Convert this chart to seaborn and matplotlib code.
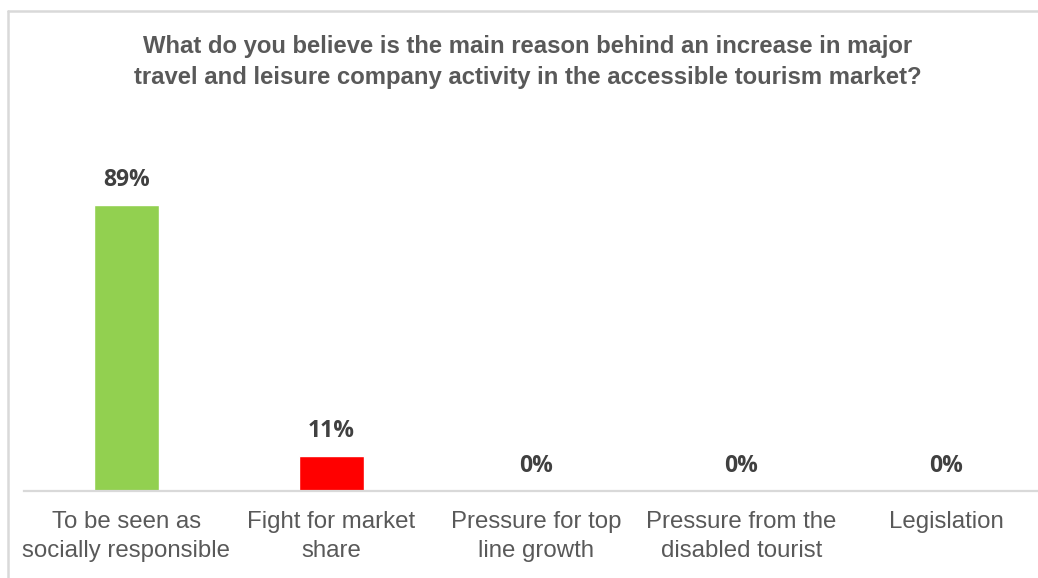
import matplotlib
matplotlib.use("Agg")
import matplotlib.pyplot as plt
import seaborn as sns
from matplotlib.lines import Line2D

categories = [
    "To be seen as\nsocially responsible",
    "Fight for market\nshare",
    "Pressure for top\nline growth",
    "Pressure from the\ndisabled tourist",
    "Legislation",
]
shares = [0.89, 0.11, 0.0, 0.0, 0.0]
value_labels = ["89%", "11%", "0%", "0%", "0%"]
bar_colors = ["#92D050", "#FF0000", "#A5A5A5", "#FFC000", "#5B9BD5"]
title = ("What do you believe is the main reason behind an increase in major\n"
         "travel and leisure company activity in the accessible tourism market?")

sns.set_theme(style="white")
plt.rcParams["font.family"] = ["Liberation Sans", "DejaVu Sans"]

W, H = 1038, 578
fig = plt.figure(figsize=(W / 100, H / 100), dpi=100)
fig.patch.set_facecolor("white")

# plot area: baseline at y=491 px, one category slot = 205 px
ax = fig.add_axes([24 / W, (H - 491) / H, 1024.5 / W, 321 / H])
sns.barplot(x=categories, y=shares, hue=categories, palette=bar_colors,
            legend=False, width=0.317, saturation=1, ax=ax)
ax.set_ylim(0, 1.0)
ax.set_xlim(-0.5, 4.5)
ax.set_yticks([])
ax.set_xlabel("")
ax.set_ylabel("")
for side in ("top", "right", "left"):
    ax.spines[side].set_visible(False)
ax.spines["bottom"].set_color("#D9D9D9")
ax.spines["bottom"].set_linewidth(1.6)
ax.tick_params(axis="x", length=0, pad=14.5, labelsize=17.3, labelcolor="#595959")
for lbl in ax.get_xticklabels():
    lbl.set_linespacing(1.4)

for i, (v, txt) in enumerate(zip(shares, value_labels)):
    ax.annotate(txt, (i, v), xytext=(0, 18), textcoords="offset points",
                ha="center", va="center", fontsize=16.5, fontweight="bold",
                color="#404040", family=["Open Sans", "DejaVu Sans"])

fig.text(528 / W, 1 - 62 / H, title, ha="center", va="center",
         fontsize=17.2, fontweight="bold", color="#595959", linespacing=1.45)

# frame lines on the left and top edges
fig.add_artist(Line2D([7.5 / W, 7.5 / W], [0, 1 - 10.5 / H],
                      transform=fig.transFigure, color="#D9D9D9", lw=1.8))
fig.add_artist(Line2D([7.5 / W, 1], [1 - 10.5 / H, 1 - 10.5 / H],
                      transform=fig.transFigure, color="#D9D9D9", lw=1.8))

fig.savefig("out.png", dpi=100)
